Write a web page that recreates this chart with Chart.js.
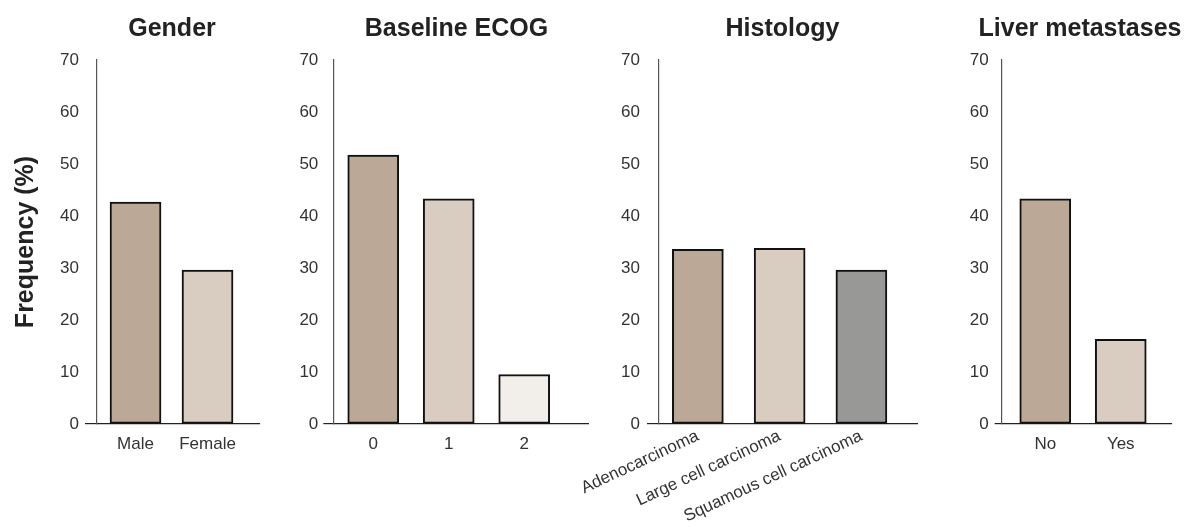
<!DOCTYPE html>
<html>
<head>
<meta charset="utf-8">
<script src="https://cdn.jsdelivr.net/npm/chart.js@4"></script>
<style>
	body { margin: 0; background: #fff; overflow: hidden; width: 1189px; height: 531px; position: relative; }
	canvas { position: absolute; top: 0; }
</style>
</head>
<body>
<canvas id="c1"></canvas>
<canvas id="c2"></canvas>
<canvas id="c3"></canvas>
<canvas id="c4"></canvas>
<script>
// data (percent)
var genderLabels = ['Male', 'Female'];
var genderValues = [42.7, 29.6];

var ecogLabels = ['0', '1', '2'];
var ecogValues = [51.7, 43.3, 9.5];

var histLabels = ['Adenocarcinoma', 'Large cell carcinoma', 'Squamous cell carcinoma'];
var histValues = [33.6, 33.8, 29.6];

var liverLabels = ['No', 'Yes'];
var liverValues = [43.3, 16.3];

var yMin = 0;
var yMax = 70;
var yStep = 10;

var TAN = '#bba896', LIGHT = '#d9cdc1', PALE = '#f2eeea', GREY = '#989997';

Chart.defaults.font.family = "'Liberation Sans', Arial, sans-serif";
Chart.defaults.color = '#333';

// layout of each panel on the page (canvas is centred on its title)
var panels = [
	{id: 'c1', title: 'Gender', labels: genderLabels, values: genderValues, colors: [TAN, LIGHT],
		left: 0, width: 344, yWidth: 97, rightGap: 85, tickLen: 12, tickPad: 6,
		xMin: -0.535, xMax: 1.715, rot: 0, xPad: 10, yTitle: 'Frequency (%)'},
	{id: 'c2', title: 'Baseline ECOG', labels: ecogLabels, values: ecogValues, colors: [TAN, LIGHT, PALE],
		left: 290, width: 333.4, yWidth: 43.3, rightGap: 34.4, tickLen: 10, tickPad: 5,
		xMin: -0.529, xMax: 2.853, rot: 0, xPad: 10},
	{id: 'c3', title: 'Histology', labels: histLabels, values: histValues, colors: [TAN, LIGHT, GREY],
		left: 560, width: 445.4, yWidth: 99, rightGap: 87.4, tickLen: 12, tickPad: 7,
		xMin: -0.475, xMax: 2.687, rot: 25, xPad: 2},
	{id: 'c4', title: 'Liver metastases', labels: liverLabels, values: liverValues, colors: [TAN, LIGHT],
		left: 960, width: 240, yWidth: 41.7, rightGap: 28.3, tickLen: 7, tickPad: 6,
		xMin: -0.577, xMax: 1.675, rot: 0, xPad: 10}
];

function drawPanel(p){

	var canvas = document.getElementById(p.id);
	canvas.width = p.width;
	canvas.height = 531;
	canvas.style.left = p.left + 'px';
	canvas.style.width = p.width + 'px';
	canvas.style.height = '531px';

	var points = p.values.map(function(v, i){
		return {x: i, y: v};
	});

	var yTitle = {display: false};
	if(p.yTitle){
		yTitle = {
			display: true,
			text: p.yTitle,
			color: '#222',
			font: {size: 25, weight: 'bold'},
			padding: {top: 11, bottom: 0}
		};
	}

	new Chart(canvas, {
		type: 'bar',
		data: {
			datasets: [{
				data: points,
				backgroundColor: p.colors,
				borderColor: '#111',
				borderWidth: 2,
				borderSkipped: false,
				barThickness: 51
			}]
		},
		options: {
			responsive: false,
			animation: false,
			layout: {padding: 0},
			plugins: {
				legend: {display: false},
				tooltip: {enabled: false},
				title: {
					display: true,
					text: p.title,
					color: '#222',
					font: {size: 25, weight: 'bold'},
					padding: {top: 14, bottom: 16}
				}
			},
			scales: {
				x: {
					type: 'linear',
					min: p.xMin,
					max: p.xMax,
					offset: false,
					afterBuildTicks: function(s){
						s.ticks = p.labels.map(function(l, i){ return {value: i}; });
					},
					afterFit: function(s){
						s.height = 531 - 424;
						s.paddingLeft = 0;
						// empty room right of the axis end
						s.paddingRight = p.rightGap;
					},
					ticks: {
						autoSkip: false,
						minRotation: p.rot,
						maxRotation: p.rot,
						padding: p.xPad,
						font: {size: 17},
						color: '#333',
						callback: function(v){ return p.labels[v]; }
					},
					grid: {display: false, drawTicks: false},
					border: {display: true, color: '#222', width: 1.2}
				},
				y: {
					min: yMin,
					max: yMax,
					afterFit: function(s){
						s.width = p.yWidth;
						s.paddingTop = 0;
						s.paddingBottom = 0;
					},
					ticks: {
						stepSize: yStep,
						padding: p.tickPad,
						font: {size: 17},
						color: '#333'
					},
					grid: {
						drawOnChartArea: false,
						drawTicks: true,
						tickLength: p.tickLen,
						lineWidth: 1.2,
						color: function(ctx){
							return (ctx.tick && ctx.tick.value === 0) ? '#222' : 'rgba(0,0,0,0)';
						}
					},
					border: {display: true, color: '#555', width: 1.2},
					title: yTitle
				}
			}
		}
	});
}

panels.forEach(drawPanel);
</script>
</body>
</html>
